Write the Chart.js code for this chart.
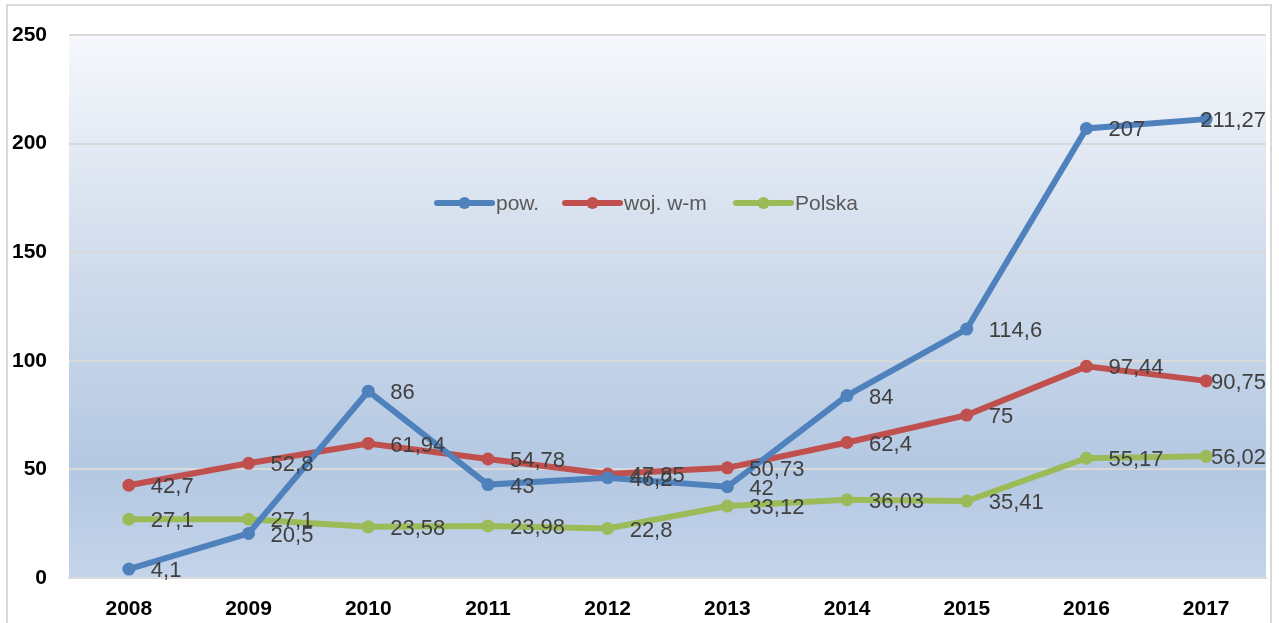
<!DOCTYPE html>
<html>
<head>
<meta charset="utf-8">
<script src="https://cdn.jsdelivr.net/npm/chart.js@4.4.1/dist/chart.umd.min.js"></script>
<style>
html,body{margin:0;padding:0;background:#fff;}
#wrap{position:absolute;left:0;top:0;width:1279px;height:623px;}
</style>
</head>
<body>
<div id="wrap"><canvas id="c" width="1279" height="623"></canvas></div>
<script>
const years = ['2008','2009','2010','2011','2012','2013','2014','2015','2016','2017'];
const powValues = [4.1, 20.5, 86, 43, 46.2, 42, 84, 114.6, 207, 211.27];
const wojValues = [42.7, 52.8, 61.94, 54.78, 47.85, 50.73, 62.4, 75, 97.44, 90.75];
const polskaValues = [27.1, 27.1, 23.58, 23.98, 22.8, 33.12, 36.03, 35.41, 55.17, 56.02];
const seriesNames = ['pow.', 'woj. w-m', 'Polska'];
const yTicks = [0, 50, 100, 150, 200, 250];

const colors = ['#4f81bd', '#c0504d', '#9bbb59'];
const FONT = '"Liberation Sans", Arial, sans-serif';

const fmt = v => String(v).replace('.', ',');

const frame = {
  id: 'frame',
  beforeDraw(chart) {
    const {ctx, chartArea: a} = chart;
    ctx.save();
    const g = ctx.createLinearGradient(0, a.top, 0, a.bottom);
    g.addColorStop(0, '#f6f8fc');
    g.addColorStop(0.35, '#d6e0ee');
    g.addColorStop(0.8, '#b4c8e2');
    g.addColorStop(1, '#c4d4ea');
    ctx.fillStyle = g;
    ctx.fillRect(a.left, a.top, a.right - a.left, a.bottom - a.top);
    ctx.strokeStyle = '#d9d9d9';
    ctx.lineWidth = 2;
    ctx.beginPath();
    ctx.moveTo(7, 623);
    ctx.lineTo(7, 5);
    ctx.lineTo(1271, 5);
    ctx.lineTo(1271, 623);
    ctx.stroke();
    ctx.restore();
  }
};

const labelsAndLegend = {
  id: 'labelsAndLegend',
  afterDatasetsDraw(chart) {
    const {ctx} = chart;
    const a = chart.chartArea;
    ctx.save();
    ctx.font = '22px ' + FONT;
    ctx.fillStyle = '#404040';
    ctx.textAlign = 'left';
    ctx.textBaseline = 'middle';
    chart.data.datasets.forEach((ds, i) => {
      const meta = chart.getDatasetMeta(i);
      meta.data.forEach((pt, j) => {
        const t = fmt(ds.data[j]);
        const w = ctx.measureText(t).width;
        let x = pt.x + 22;
        if (x + w > a.right) x = Math.max(pt.x - 6, a.right - w);
        ctx.fillText(t, x, pt.y + 2);
      });
    });
    // legend
    ctx.font = '21px ' + FONT;
    const y = 203;
    const starts = [437, 565, 736];
    chart.data.datasets.forEach((ds, i) => {
      const x = starts[i];
      ctx.strokeStyle = ds.borderColor;
      ctx.lineWidth = 6;
      ctx.lineCap = 'round';
      ctx.beginPath();
      ctx.moveTo(x, y);
      ctx.lineTo(x + 55, y);
      ctx.stroke();
      ctx.fillStyle = ds.borderColor;
      ctx.beginPath();
      ctx.arc(x + 27.5, y, 6, 0, Math.PI * 2);
      ctx.fill();
      ctx.fillStyle = '#595959';
      ctx.fillText(ds.label, x + 59, y + 1);
    });
    ctx.restore();
  }
};

const mk = (label, data, c) => ({
  label, data,
  borderColor: c, backgroundColor: c,
  borderWidth: 6,
  pointRadius: 6.5, pointHoverRadius: 6.5,
  pointBackgroundColor: c, pointBorderColor: c, pointBorderWidth: 0,
  tension: 0, clip: false
});

new Chart(document.getElementById('c'), {
  type: 'line',
  data: {
    labels: years,
    datasets: [
      mk(seriesNames[0], powValues, colors[0]),
      mk(seriesNames[1], wojValues, colors[1]),
      mk(seriesNames[2], polskaValues, colors[2])
    ]
  },
  options: {
    responsive: false,
    animation: false,
    devicePixelRatio: 1,
    layout: {padding: {left: 0, right: 13, top: 35, bottom: 0}},
    plugins: {legend: {display: false}, tooltip: {enabled: false}},
    scales: {
      x: {
        offset: true,
        grid: {display: false, drawTicks: false},
        border: {display: true, color: '#d9d9d9', width: 2},
        ticks: {color: '#000', font: {family: FONT, size: 21, weight: 'bold'}, padding: 19, maxRotation: 0},
        afterFit: s => { s.height = 45; }
      },
      y: {
        min: 0, max: 250,
        afterBuildTicks: s => { s.ticks = yTicks.map(v => ({value: v})); },
        grid: {color: '#d9d9d9', lineWidth: 2, drawTicks: false},
        border: {display: false},
        ticks: {color: '#000', font: {family: FONT, size: 21, weight: 'bold'}, padding: 22},
        afterFit: s => { s.width = 69; }
      }
    }
  },
  plugins: [frame, labelsAndLegend]
});
</script>
</body>
</html>
